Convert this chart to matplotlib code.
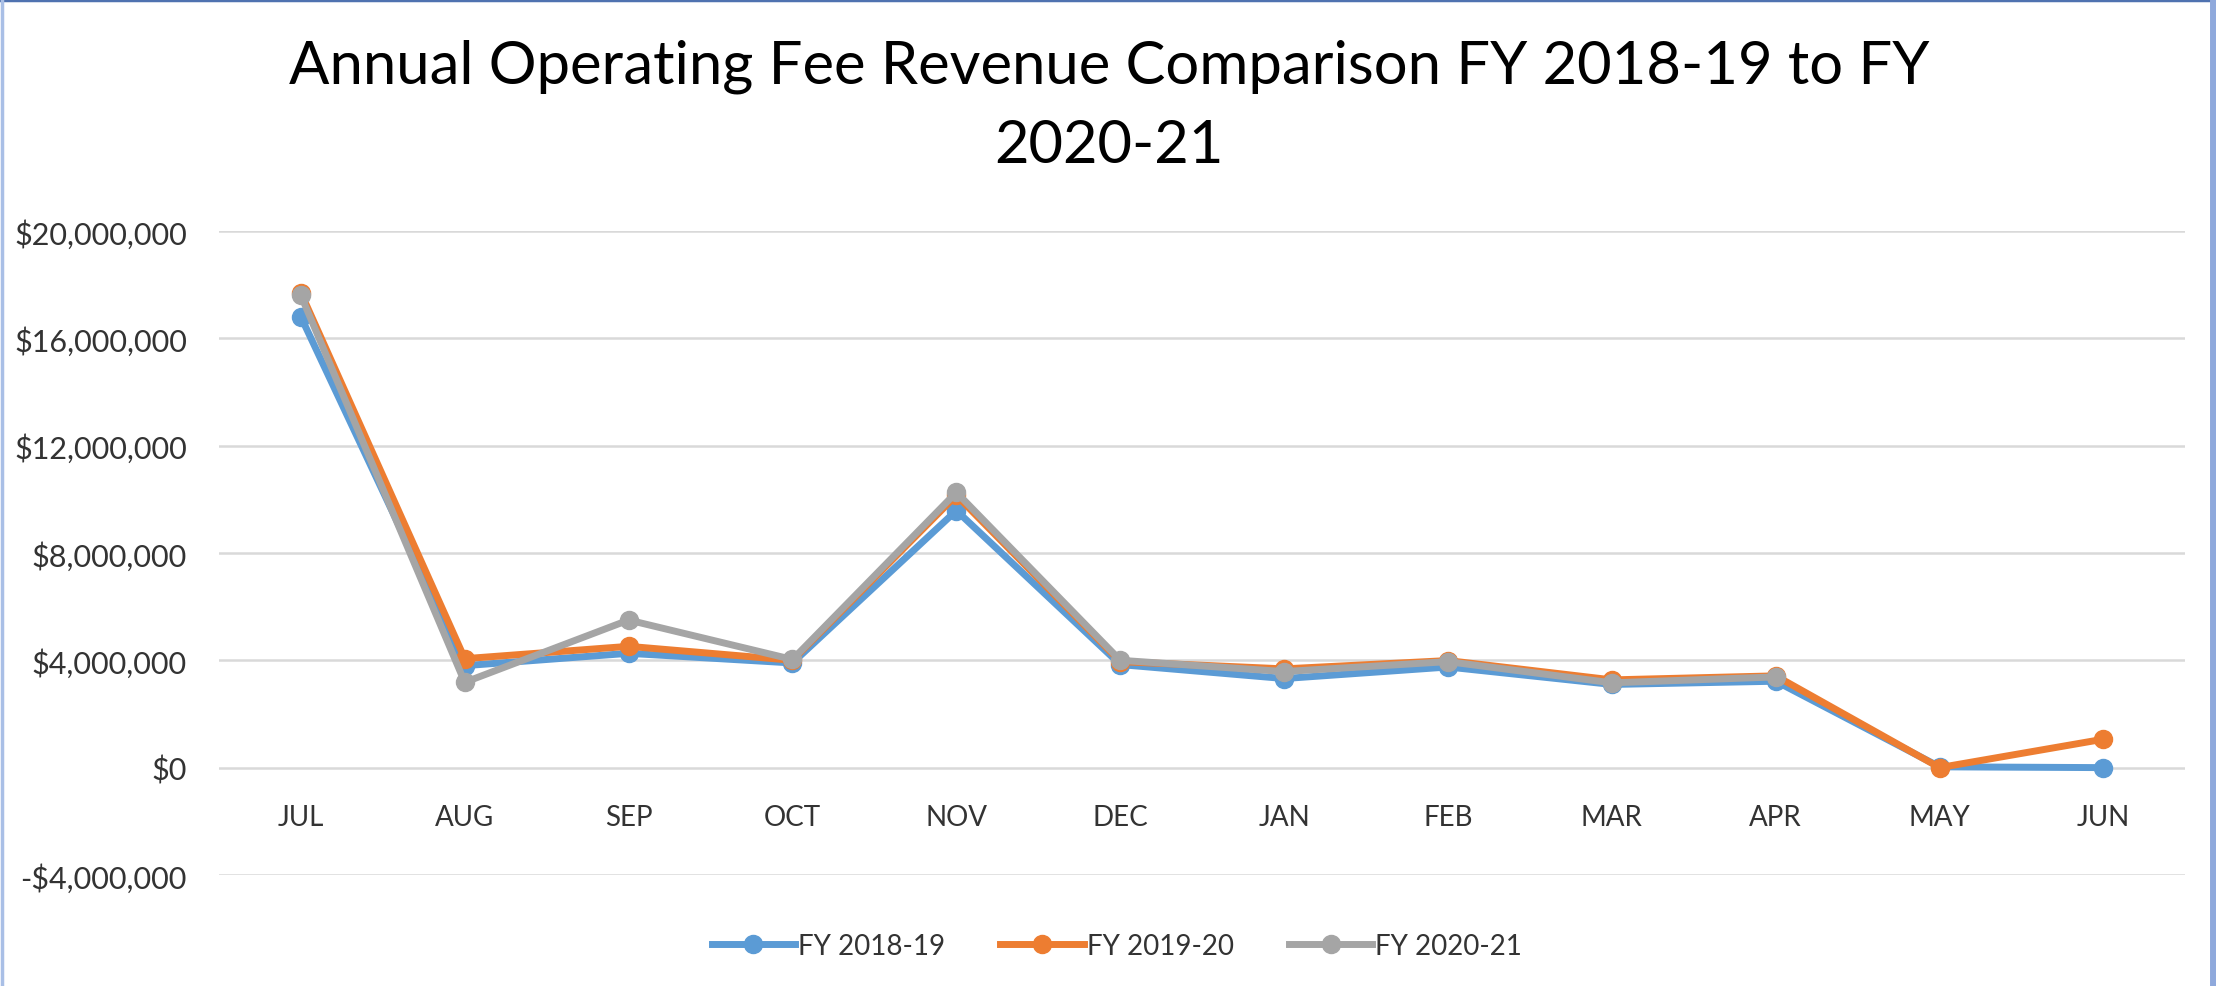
import numpy as np
import matplotlib
matplotlib.use('Agg')
import matplotlib.pyplot as plt
from matplotlib.ticker import FuncFormatter, MultipleLocator
from matplotlib.lines import Line2D

plt.rcParams['font.family'] = ['Lato', 'DejaVu Sans']

# values (dollars)
months = ['JUL', 'AUG', 'SEP', 'OCT', 'NOV', 'DEC', 'JAN', 'FEB', 'MAR', 'APR', 'MAY', 'JUN']
fy1819 = [16800000, 3800000, 4260000, 3900000, 9580000, 3840000, 3320000, 3750000, 3100000, 3220000, 30000, 0]
fy1920 = [17700000, 4060000, 4520000, 4000000, 10150000, 3950000, 3680000, 3990000, 3270000, 3420000, 0, 1060000]
fy2021 = [17600000, 3180000, 5500000, 4030000, 10260000, 4000000, 3580000, 3950000, 3160000, 3380000, np.nan, np.nan]
series_names = ['FY 2018-19', 'FY 2019-20', 'FY 2020-21']
colors = ['#5B9BD5', '#ED7D31', '#A5A5A5']

fig = plt.figure(figsize=(22.16, 9.87), dpi=100)
ax = fig.add_axes([0.0988, 0.1125, 0.9862 - 0.0988, 0.765 - 0.1125])

x = np.arange(len(months))
for vals, name, c in zip([fy1819, fy1920, fy2021], series_names, colors):
    ax.plot(x, vals, color=c, lw=5, marker='o', ms=13, label=name,
            solid_joinstyle='round', solid_capstyle='round', zorder=3)

ax.set_xlim(-0.5, len(months) - 0.5)
ax.set_ylim(-4000000, 20000000)
ax.yaxis.set_major_locator(MultipleLocator(4000000))

def money(v, pos):
    if v < 0:
        return '-${:,.0f}'.format(-v)
    return '${:,.0f}'.format(v)

ax.yaxis.set_major_formatter(FuncFormatter(money))
ax.set_xticks(x)
ax.set_xticklabels(months)
# month labels hang off the zero line, like Excel does
ax.spines['bottom'].set_position(('data', 0))
ax.tick_params(axis='x', length=0, labelsize=20, colors='#333333', pad=26)
ax.tick_params(axis='y', length=0, labelsize=22, colors='#333333', pad=23)

ax.grid(axis='y', color='#D9D9D9', lw=1.8, zorder=0)
ax.grid(axis='x', visible=False)
for s in ax.spines.values():
    s.set_visible(False)

fig.text(0.5005, 0.8925, 'Annual Operating Fee Revenue Comparison FY 2018-19 to FY\n2020-21',
         ha='center', va='center', fontsize=43, color='black', linespacing=1.58)

handles = [Line2D([0], [0], color=c, lw=5, marker='o', ms=13) for c in colors]
fig.legend(handles, series_names, loc='center', bbox_to_anchor=(0.504, 0.041), ncol=3,
           frameon=False, fontsize=20, handlelength=3.0, columnspacing=2.0,
           handletextpad=0.1, labelcolor='#333333')

# slide border
fig.add_artist(Line2D([0, 1], [0.999, 0.999], transform=fig.transFigure, color='#4F72B0', lw=2.5))
fig.add_artist(Line2D([0.0008, 0.0008], [0, 1], transform=fig.transFigure, color='#A9BFE6', lw=2.5))
fig.add_artist(Line2D([0.9985, 0.9985], [0, 1], transform=fig.transFigure, color='#8FA9DC', lw=5))

fig.savefig('out.png', dpi=100)
